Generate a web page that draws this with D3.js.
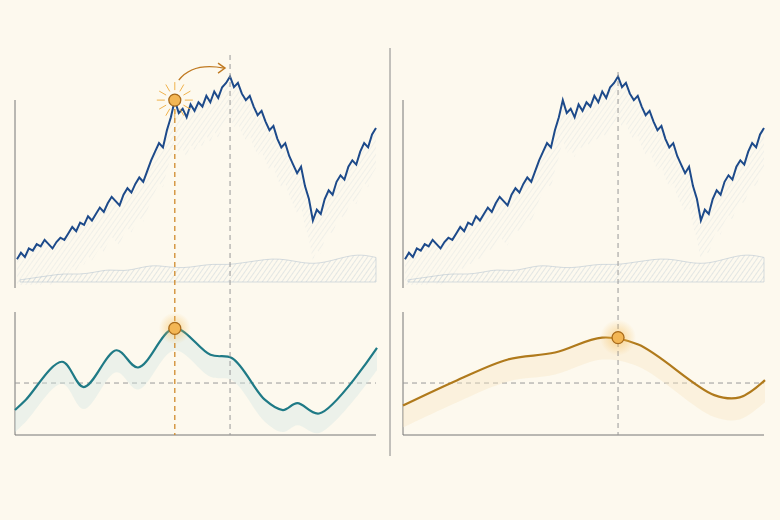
<!DOCTYPE html>
<html><head><meta charset="utf-8">
<script src="https://cdn.jsdelivr.net/npm/d3@7"></script>
<style>body{margin:0;background:#fdf9ee}</style>
</head><body><div id="chart"></div>
<script>
// price walk (shared by both panels)
const price = [12,15,13,17,16,19,18,21,19,17,20,
  22,21,24,27,25,29,28,32,30,33,
  36,34,38,41,39,37,42,45,43,47,
  50,48,53,58,62,66,64,72,78,86,
  80,82,78,84,81,85,83,88,85,90,87,92,94,97,
  92,94,89,86,88,83,79,81,76,72,74,68,64,66,60,56,52,55,46,40,30,
  35,33,40,44,42,48,51,49,55,58,56,62,66,64,70,73];
// background ridge
const ridge = [2,4,6,8,7,9,12,10,13,16,14,13,15,17,16,18,20,22,21,18,17,20,24,26,23];
// lower panels: position (0-1) and value
const fastX = [0,0.03,0.13,0.19,0.28,0.34,0.44,0.54,0.6,0.69,0.74,0.78,0.84,1];
const fastY = [13,22,55,33,65,50,84,61,58,22,13,19,10,67];
const slowX = [0,0.15,0.29,0.42,0.55,0.65,0.86,0.93,1];
const slowY = [17,39,57,63,76,70,26,24,39];
const baseline = 36.5;

const W = 780, H = 520;
const svg = d3.select('#chart').append('svg').attr('width', W).attr('height', H);
svg.append('rect').attr('width', W).attr('height', H).attr('fill', '#fdf9ee');

const defs = svg.append('defs');
const pat = defs.append('pattern').attr('id', 'hatch').attr('width', 4).attr('height', 4)
  .attr('patternUnits', 'userSpaceOnUse').attr('patternTransform', 'rotate(35)');
pat.append('line').attr('x1', 0).attr('y1', 0).attr('x2', 0).attr('y2', 4)
  .attr('stroke', '#8fa9c4').attr('stroke-width', 0.8);
function glow(id, c) {
  const g = defs.append('radialGradient').attr('id', id);
  g.append('stop').attr('offset', '0%').attr('stop-color', c).attr('stop-opacity', 0.55);
  g.append('stop').attr('offset', '100%').attr('stop-color', c).attr('stop-opacity', 0);
}
glow('glowO', '#f5b84a');

function panel(x0, fast) {
  const x1 = x0 + 361;
  const xp = d3.scaleLinear().domain([0, price.length - 1]).range([x0 + 2, x1]);
  const yp = d3.scaleLinear().domain([0, 100]).range([285, 70]);
  const g = svg.append('g');
  // ridge
  const xr = d3.scaleLinear().domain([0, ridge.length - 1]).range([x0 + 5, x1]);
  const yr = d3.scaleLinear().domain([0, 30]).range([282, 250]);
  g.append('path').datum(ridge)
    .attr('d', d3.area().x((d, i) => xr(i)).y0(282).y1(d => yr(d)).curve(d3.curveBasis))
    .attr('fill', 'url(#hatch)').attr('opacity', 0.6)
    .attr('stroke', '#8aa3bd').attr('stroke-width', 0.6);
  // shade under price
  g.append('path').datum(price)
    .attr('d', d3.area().x((d, i) => xp(i)).y0(d => Math.min(285, yp(d) + 40)).y1(d => yp(d)))
    .attr('fill', 'url(#hatch)').attr('opacity', 0.3);
  // axes
  g.append('line').attr('x1', x0).attr('x2', x0).attr('y1', 100).attr('y2', 288).attr('stroke', '#777').attr('stroke-width', 1);
  g.append('line').attr('x1', x0).attr('x2', x0).attr('y1', 312).attr('y2', 435).attr('stroke', '#777');
  g.append('line').attr('x1', x0).attr('x2', x1).attr('y1', 435).attr('y2', 435).attr('stroke', '#777');

  // lower
  const xs = d3.scaleLinear().domain([0, 1]).range([x0, x1 + 1]);
  const ys = d3.scaleLinear().domain([0, 100]).range([425, 310]);
  g.append('line').attr('x1', x0).attr('x2', x1).attr('y1', ys(baseline)).attr('y2', ys(baseline))
    .attr('stroke', '#999').attr('stroke-dasharray', '5,4');
  const X = fast ? fastX : slowX, Y = fast ? fastY : slowY;
  const pts = X.map((v, i) => [xs(v), ys(Y[i])]);
  const col = fast ? '#1f7a86' : '#b07a1c';
  g.append('path').datum(pts)
    .attr('d', d3.area().x(d => d[0]).y0(d => Math.min(433, d[1] + 22)).y1(d => d[1]).curve(d3.curveCatmullRom))
    .attr('fill', fast ? '#d3e7e4' : '#f8e7c2').attr('opacity', 0.4);
  g.append('path').datum(pts)
    .attr('d', d3.line().curve(d3.curveCatmullRom))
    .attr('fill', 'none').attr('stroke', col).attr('stroke-width', 2.2);

  g.append('path').datum(price)
    .attr('d', d3.line().x((d, i) => xp(i)).y(d => yp(d)))
    .attr('fill', 'none').attr('stroke', '#1d4a8a').attr('stroke-width', 2);

  const peak = price.indexOf(d3.max(price));
  const px = xp(peak);
  g.append('line').attr('x1', px).attr('x2', px).attr('y1', fast ? 55 : 72).attr('y2', 435)
    .attr('stroke', '#999').attr('stroke-dasharray', '5,4');

  if (fast) {
    const mi = 40, mx = xp(mi), my = yp(price[mi]);
    g.append('line').attr('x1', mx).attr('x2', mx).attr('y1', my).attr('y2', 435)
      .attr('stroke', '#d08a2c').attr('stroke-dasharray', '5,4').attr('stroke-width', 1.3);
    d3.range(12).forEach(k => {
      const a = k * Math.PI / 6;
      g.append('line').attr('x1', mx + Math.cos(a) * 10).attr('y1', my + Math.sin(a) * 10)
        .attr('x2', mx + Math.cos(a) * 18).attr('y2', my + Math.sin(a) * 18)
        .attr('stroke', '#f0b24c').attr('stroke-width', 1);
    });
    g.append('circle').attr('cx', mx).attr('cy', ys(d3.max(fastY))).attr('r', 16).attr('fill', 'url(#glowO)');
    g.append('circle').attr('cx', mx).attr('cy', ys(d3.max(fastY))).attr('r', 6).attr('fill', '#f3b654').attr('stroke', '#a86a1a').attr('stroke-width', 1.3);
    g.append('circle').attr('cx', mx).attr('cy', my).attr('r', 6).attr('fill', '#f3b654').attr('stroke', '#a86a1a').attr('stroke-width', 1.3);
    g.append('path').attr('d', `M${mx + 4},${my - 20} Q${mx + 18},${my - 38} ${px - 6},${my - 32}`)
      .attr('fill', 'none').attr('stroke', '#c07a22').attr('stroke-width', 1.4);
    g.append('path').attr('d', `M${px - 12},${my - 37} L${px - 5},${my - 32} L${px - 12},${my - 27}`)
      .attr('fill', 'none').attr('stroke', '#c07a22').attr('stroke-width', 1.4);
  } else {
    const cy = ys(d3.max(slowY));
    g.append('circle').attr('cx', px).attr('cy', cy).attr('r', 18).attr('fill', 'url(#glowO)');
    g.append('circle').attr('cx', px).attr('cy', cy).attr('r', 6).attr('fill', '#f3b654').attr('stroke', '#a86a1a').attr('stroke-width', 1.3);
  }
}
panel(15, true);
panel(403, false);
svg.append('line').attr('x1', 390).attr('x2', 390).attr('y1', 48).attr('y2', 456).attr('stroke', '#888').attr('stroke-width', 1);
</script></body></html>
